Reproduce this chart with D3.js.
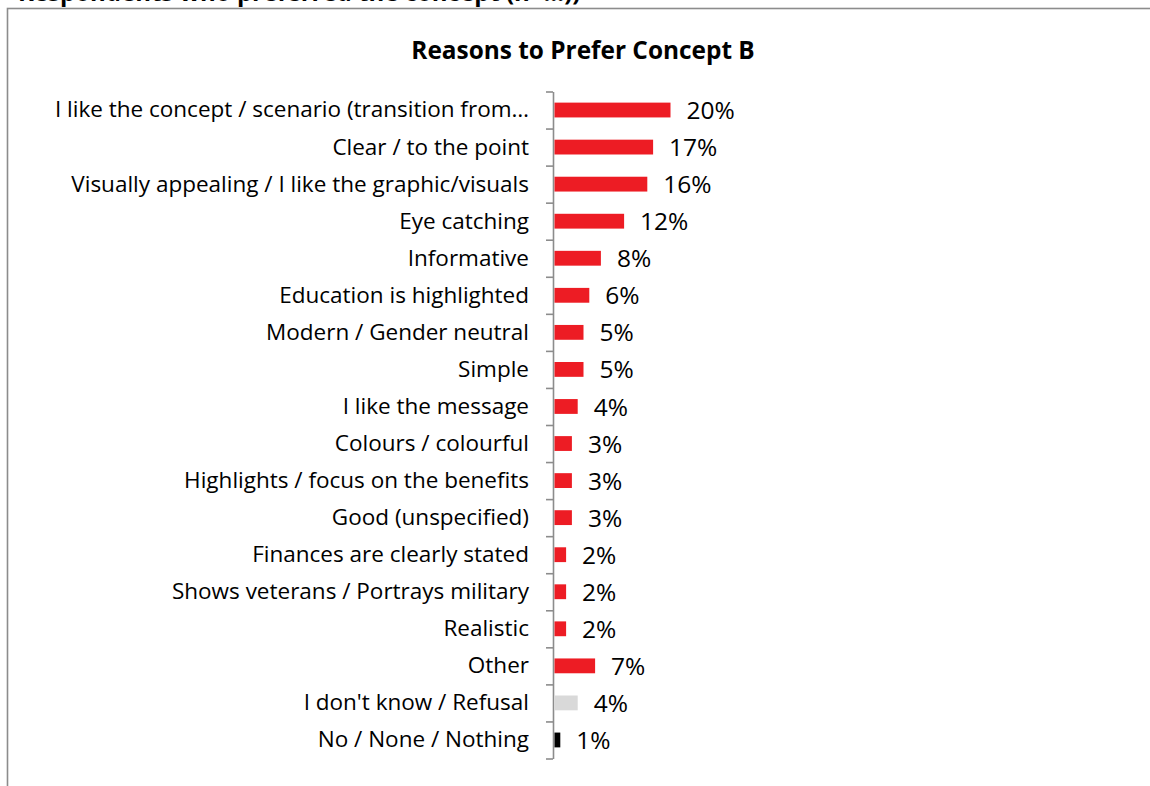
<!DOCTYPE html>
<html>
<head>
<meta charset="utf-8">
<script src="https://cdn.jsdelivr.net/npm/d3@7/dist/d3.min.js"></script>
<style>
  html, body { margin: 0; padding: 0; background: #fff; }
  svg { display: block; }
  text { font-family: "Open Sans", Lato, sans-serif; }
</style>
</head>
<body>
<svg id="chart" width="1150" height="786"></svg>
<script>
// Reasons respondents gave for preferring Concept B (% of mentions)
const categories = [
  "I like the concept / scenario (transition from\u2026",
  "Clear / to the point",
  "Visually appealing / I like the graphic/visuals",
  "Eye catching",
  "Informative",
  "Education is highlighted",
  "Modern / Gender neutral",
  "Simple",
  "I like the message",
  "Colours / colourful",
  "Highlights / focus on the benefits",
  "Good (unspecified)",
  "Finances are clearly stated",
  "Shows veterans / Portrays military",
  "Realistic",
  "Other",
  "I don't know / Refusal",
  "No / None / Nothing"
];
const values = [20, 17, 16, 12, 8, 6, 5, 5, 4, 3, 3, 3, 2, 2, 2, 7, 4, 1];
// answer type per row: substantive reason, don't know, nothing
const groups = ["reason","reason","reason","reason","reason","reason","reason","reason",
  "reason","reason","reason","reason","reason","reason","reason","reason","dk","none"];
const groupColors = { reason: "#ED1C24", dk: "#D9D9D9", none: "#000000" };

const chartTitle = "Reasons to Prefer Concept B";
const baseNote = "Respondents who preferred the concept (n=\u2026))";

const svg = d3.select("#chart");
const labelSize = 22.5;
const valueSize = 24.5;

// heading line running off the top of the page
svg.append("text")
  .attr("x", 18).attr("y", 0.5)
  .attr("font-weight", 700)
  .attr("font-size", 24)
  .attr("fill", "#000")
  .text(baseNote);

// chart frame
svg.append("rect")
  .attr("x", 7.5).attr("y", 8.5)
  .attr("width", 1200).attr("height", 900)
  .attr("fill", "none")
  .attr("stroke", "#8c8c8c")
  .attr("stroke-width", 1.6);

svg.append("text")
  .attr("x", 583).attr("y", 58.5)
  .attr("text-anchor", "middle")
  .attr("font-weight", 700)
  .attr("font-size", 24.4)
  .attr("fill", "#000")
  .text(chartTitle);

const plotTop = 91.5, plotBottom = 758.5, axisX = 553;

const y = d3.scaleBand()
  .domain(categories)
  .range([plotTop, plotBottom])
  .paddingInner(0.6)
  .paddingOuter(0.3);

const x = d3.scaleLinear().domain([0, 20]).range([axisX + 1.5, axisX + 117.5]);

// category axis with tick marks on the band boundaries
const edge = d3.scaleLinear().domain([0, categories.length]).range([plotTop, plotBottom]);
const axis = svg.append("g")
  .attr("transform", `translate(${axisX},0)`)
  .call(d3.axisLeft(edge)
    .tickValues(d3.range(categories.length + 1))
    .tickSize(7)
    .tickSizeOuter(0)
    .tickFormat(""));
axis.selectAll("path, line").attr("stroke", "#8c8c8c").attr("stroke-width", 1.6);

// category labels
svg.append("g").selectAll("text")
  .data(categories)
  .join("text")
  .attr("x", axisX - 24)
  .attr("y", d => y(d) + y.bandwidth() / 2)
  .attr("dy", "0.33em")
  .attr("text-anchor", "end")
  .attr("font-size", labelSize)
  .attr("fill", "#000")
  .text(d => d);

const rows = categories.map((c, i) => ({ c, v: values[i], g: groups[i] }));

svg.append("g").selectAll("rect")
  .data(rows)
  .join("rect")
  .attr("x", x(0))
  .attr("y", d => y(d.c))
  .attr("width", d => x(d.v) - x(0))
  .attr("height", y.bandwidth())
  .attr("fill", d => groupColors[d.g]);

// value labels
svg.append("g").selectAll("text")
  .data(rows)
  .join("text")
  .attr("x", d => x(d.v) + 16)
  .attr("y", d => y(d.c) + y.bandwidth() / 2)
  .attr("dy", "0.37em")
  .attr("font-size", valueSize)
  .attr("fill", "#000")
  .text(d => d.v + "%");
</script>
</body>
</html>
